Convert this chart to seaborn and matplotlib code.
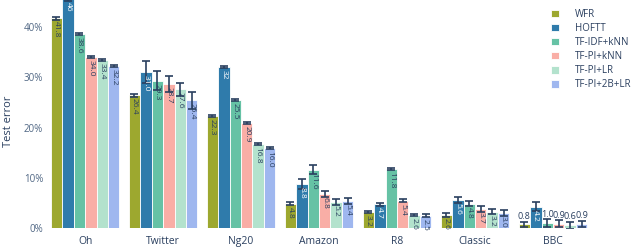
import numpy as np
import pandas as pd
import matplotlib
matplotlib.use("Agg")
import matplotlib.pyplot as plt
import seaborn as sns

datasets = ["Oh", "Twitter", "Ng20", "Amazon", "R8", "Classic", "BBC"]
methods = ["WFR", "HOFTT", "TF-IDF+kNN", "TF-PI+kNN", "TF-PI+LR", "TF-PI+2B+LR"]

# test error in %, one list per method (order follows datasets)
wfr = [41.8, 26.4, 22.3, 4.8, 3.2, 2.6, 0.8]
hoftt = [45.6, 31.0, 32.0, 8.8, 4.7, 5.6, 4.2]
tfidf_knn = [38.6, 29.3, 25.5, 11.6, 11.8, 4.8, 1.0]
tfpi_knn = [34.0, 28.7, 20.9, 6.8, 5.4, 3.7, 0.9]
tfpi_lr = [33.4, 27.6, 16.8, 5.2, 2.6, 3.2, 0.6]
tfpi_2b_lr = [32.2, 25.4, 16.0, 5.4, 2.5, 3.0, 0.9]

wfr_err = [0.3, 0.3, 0.2, 0.3, 0.2, 0.3, 0.5]
hoftt_err = [0.3, 2.2, 0.2, 1.0, 0.3, 0.6, 0.9]
tfidf_knn_err = [0.2, 1.9, 0.2, 0.9, 0.2, 0.5, 0.8]
tfpi_knn_err = [0.2, 1.6, 0.2, 0.6, 0.3, 0.6, 0.7]
tfpi_lr_err = [0.2, 1.3, 0.2, 0.6, 0.2, 0.5, 0.7]
tfpi_2b_lr_err = [0.2, 1.6, 0.2, 0.6, 0.2, 0.5, 0.6]

wfr_lbl = ["41.8", "26.4", "22.3", "4.8", "3.2", "2.6", "0.8"]
hoftt_lbl = ["46", "31.0", "32", "8.8", "4.7", "5.6", "4.2"]
tfidf_knn_lbl = ["38.6", "29.3", "25.5", "11.6", "11.8", "4.8", "1.0"]
tfpi_knn_lbl = ["34.0", "28.7", "20.9", "6.8", "5.4", "3.7", "0.9"]
tfpi_lr_lbl = ["33.4", "27.6", "16.8", "5.2", "2.6", "3.2", "0.6"]
tfpi_2b_lr_lbl = ["32.2", "25.4", "16.0", "5.4", "2.5", "3.0", "0.9"]

colors = ["#9da82f", "#2f7bab", "#66c2a5", "#f9aea6", "#b3e2cd", "#9fb7ef"]
text_colors = ["#2a3f5f", "white", "#2a3f5f", "#2a3f5f", "#2a3f5f", "#2a3f5f"]

values = [wfr, hoftt, tfidf_knn, tfpi_knn, tfpi_lr, tfpi_2b_lr]
errors = [wfr_err, hoftt_err, tfidf_knn_err, tfpi_knn_err, tfpi_lr_err, tfpi_2b_lr_err]
labels = [wfr_lbl, hoftt_lbl, tfidf_knn_lbl, tfpi_knn_lbl, tfpi_lr_lbl, tfpi_2b_lr_lbl]

rows = []
for m, vals in zip(methods, values):
    for d, v in zip(datasets, vals):
        rows.append({"dataset": d, "method": m, "error": v / 100})
df = pd.DataFrame(rows)

sns.set_theme(style="white")
plt.rcParams["font.family"] = ["Open Sans", "DejaVu Sans"]

fig = plt.figure(figsize=(6.4, 2.52), dpi=100)
ax = fig.add_axes([0.072, 0.095, 0.853, 0.905])

sns.barplot(data=df, x="dataset", y="error", hue="method", order=datasets,
            hue_order=methods, palette=colors, width=0.88, errorbar=None,
            edgecolor="white", linewidth=0.6, saturation=1, ax=ax)

bar_groups = list(ax.containers)
for k, cont in enumerate(bar_groups):
    xs = [p.get_x() + p.get_width() / 2 for p in cont.patches]
    ys = [p.get_height() for p in cont.patches]
    ax.errorbar(xs, ys, yerr=np.array(errors[k]) / 100, fmt="none",
                ecolor="#2a3f5f", elinewidth=1.2, capsize=3, capthick=1.2, zorder=3)
    for x, y, s, e in zip(xs, ys, labels[k], errors[k]):
        if y * 100 < 2.0:
            ax.text(x, y + e / 100 + 0.001, s, ha="center", va="bottom",
                    fontsize=6.5, color="#2a3f5f", zorder=4)
        else:
            ax.text(x, y - 0.006, s, ha="center", va="top", rotation=270,
                    fontsize=6, color=text_colors[k], zorder=4)

ax.set_ylim(0, 0.454)
ax.set_xlim(-0.5, len(datasets) - 0.5)
ax.set_yticks([0, 0.1, 0.2, 0.3, 0.4])
ax.set_yticklabels(["0%", "10%", "20%", "30%", "40%"])
ax.tick_params(axis="y", labelsize=7, colors="#506784", length=0, pad=2)
ax.tick_params(axis="x", labelsize=7.5, colors="#2a3f5f", length=0, pad=6)
ax.set_xlabel("")
ax.set_ylabel("Test error", fontsize=8, color="#2a3f5f", va="center")
ax.yaxis.set_label_coords(-0.068, 0.47)
sns.despine(ax=ax, left=True, bottom=True)

handles, hl = ax.get_legend_handles_labels()
ax.legend_.remove()
fig.legend(handles, hl, loc="upper left", bbox_to_anchor=(0.848, 1.0),
           frameon=False, fontsize=7, labelcolor="#2a3f5f",
           handlelength=0.8, handleheight=0.8, handletextpad=1.6, labelspacing=0.32)

fig.savefig("out.png", dpi=100)
